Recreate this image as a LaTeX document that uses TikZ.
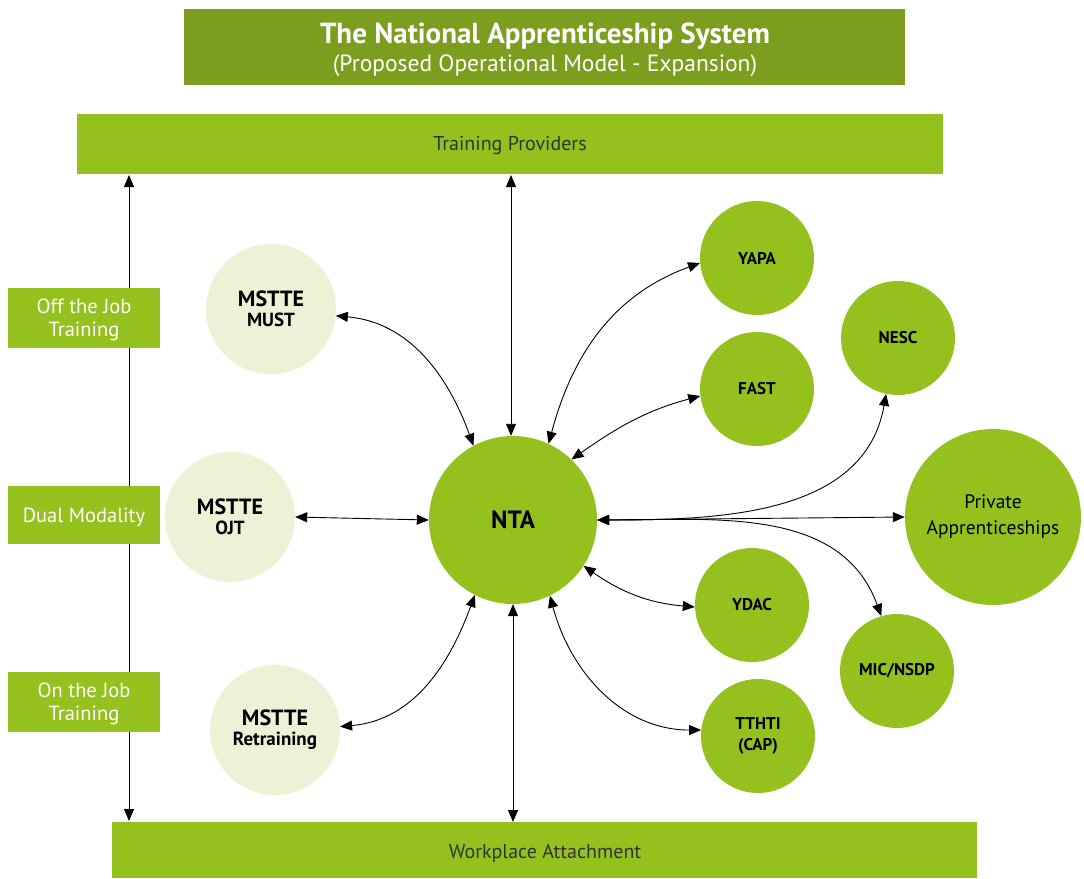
\documentclass[tikz,border=0pt]{standalone}
\usepackage{fontspec}
\setmainfont{PT Sans}
\usetikzlibrary{arrows.meta}
\definecolor{brightgreen}{HTML}{95C11F}
\definecolor{olivegreen}{HTML}{7B9E1E}
\definecolor{palegreen}{HTML}{ECF2D6}
\definecolor{bartext}{HTML}{333333}
\tikzset{
  bar/.style={fill=brightgreen, draw=none, inner sep=0pt},
  bartextstyle/.style={text=bartext, font=\fontsize{20}{24}\selectfont},
  sidelabel/.style={fill=brightgreen, draw=none, minimum width=152pt, minimum height=60pt, inner sep=0pt, anchor=north west},
  sidetext/.style={text=white, align=center, font=\fontsize{20.5}{23}\selectfont},
  palecircle/.style={circle, fill=palegreen, draw=none, minimum size=130pt, inner sep=0pt, align=center, font=\bfseries\fontsize{22}{20}\selectfont},
  greencircle/.style={circle, fill=brightgreen, draw=none, minimum size=114pt, inner sep=0pt, align=center, font=\bfseries\fontsize{17}{21}\selectfont},
  link/.style={line width=0.9pt, {Triangle[length=12pt,width=10pt]}-{Triangle[length=12pt,width=10pt]}},
}
\newcommand{\subline}[1]{{\fontsize{19}{20}\selectfont #1}}
\begin{document}
\begin{tikzpicture}[x=1pt,y=-1pt]
\useasboundingbox (0,0) rectangle (1084,878);

% title
\node[fill=olivegreen, minimum width=721pt, minimum height=76pt, inner sep=0pt, anchor=north west] (title) at (184,9) {};
\node[text=white, font=\bfseries\fontsize{29}{32}\selectfont] (t1) at (545,36) {The National Apprenticeship System};
\node[text=white, font=\fontsize{23.5}{26}\selectfont] (t2) at (545,66) {(Proposed Operational Model - Expansion)};

% bars
\node[bar, minimum width=866pt, minimum height=60pt, anchor=north west] (tp) at (77,114) {};
\node[bartextstyle] (tptext) at (510,146) {Training Providers};
\node[bar, minimum width=865pt, minimum height=56pt, anchor=north west] (wa) at (112,822) {};
\node[bartextstyle] (watext) at (545,853) {Workplace Attachment};

% left vertical line
\coordinate (lt) at (129,175);
\coordinate (lb) at (129,821);
\draw[link] (lt) -- (lb);

% side labels
\node[sidelabel] (off) at (8,288) {};
\node[sidetext] (offt) at (84,320) {Off the Job\\Training};
\node[sidelabel, minimum height=58pt] (dual) at (8,486) {};
\node[sidetext] (dualt) at (84,517) {Dual Modality};
\node[sidelabel] (on) at (8,672) {};
\node[sidetext] (ont) at (84,704) {On the Job\\Training};

% circles
\node[palecircle] (must) at (271,309) {MSTTE\\\subline{MUST}};
\node[palecircle] (ojt) at (230,517) {MSTTE\\\subline{OJT}};
\node[palecircle] (ret) at (275,730) {MSTTE\\\subline{Retraining}};

\node[circle, fill=brightgreen, minimum size=168pt, inner sep=0pt, font=\bfseries\fontsize{25}{28}\selectfont] (nta) at (513,520) {NTA};

\node[greencircle] (yapa) at (757,258) {YAPA};
\node[greencircle] (nesc) at (898,338) {NESC};
\node[greencircle] (fast) at (757,389) {FAST};
\node[circle, fill=brightgreen, minimum size=176pt, inner sep=0pt, align=center, font=\fontsize{19.5}{26}\selectfont] (priv) at (993,517) {Private\\Apprenticeships};
\node[greencircle] (ydac) at (752,605) {YDAC};
\node[greencircle] (mic) at (897,671) {MIC/NSDP};
\node[greencircle] (tthti) at (758,736) {TTHTI\\(CAP)};

% connectors
\coordinate (tpx) at (511,175);
\draw[link] (nta.north -| tpx) -- (tpx);
\draw[link] (nta.south) -- (nta.south |- wa.north);
\draw[link] (must.-6) to[out=-5, in=110] (nta.118);
\draw[link] (ojt.east) -- (nta.west);
\draw[link] (ret.3) to[out=5, in=-110] (nta.-117);
\draw[link] (yapa.185) to[out=200, in=75] (nta.65);
\draw[link] (fast.187) to[out=195, in=35] (nta.46);
\draw[link] (nesc.258) to[out=-100, in=0] (nta.east);
\draw[link] (nta.east) -- (priv.west);
\draw[link] (nta.east) to[out=0, in=110] (mic.106);
\draw[link] (nta.-33) to[out=-35, in=175] (ydac.182);
\draw[link] (nta.-64) to[out=-75, in=180] (tthti.174);
\end{tikzpicture}
\end{document}
